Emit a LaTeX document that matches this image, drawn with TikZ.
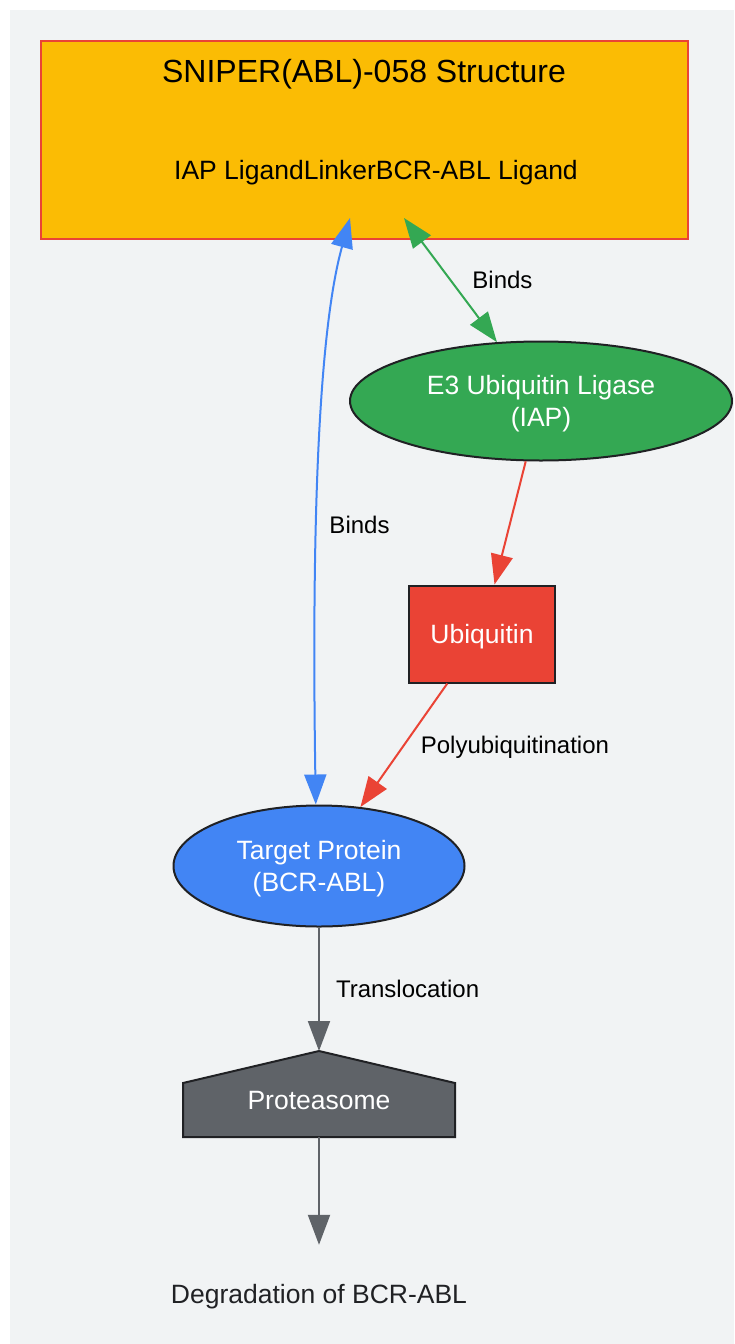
\documentclass[tikz,border=0pt]{standalone}
\usepackage{fontspec}
\setmainfont{Liberation Sans}
\usetikzlibrary{arrows.meta,positioning,shapes.geometric}

\definecolor{gyellow}{HTML}{FBBC04}
\definecolor{gred}{HTML}{EA4335}
\definecolor{ggreen}{HTML}{34A853}
\definecolor{gblue}{HTML}{4285F4}
\definecolor{ggrey}{HTML}{5F6368}
\definecolor{gdark}{HTML}{202124}
\definecolor{gback}{HTML}{F1F3F4}

\begin{document}
\begin{tikzpicture}[x=1pt, y=-1pt]
    \tikzstyle{every node}=[font=\fontsize{26.5}{32}\selectfont, text depth=0pt]
    \tikzstyle{mol}=[draw=gdark, line width=2pt, text=white, align=center, inner sep=0pt]
    \tikzstyle{lbl}=[font=\fontsize{24}{28}\selectfont, text=black, inner sep=0pt]
    \tikzstyle{onearrow}=[-{Triangle[length=30pt,width=22pt]}, line width=2pt]
    \tikzstyle{twoarrow}=[{Triangle[length=30pt,width=22pt]}-{Triangle[length=30pt,width=22pt]}, line width=2pt]

    \useasboundingbox (0,0) rectangle (734,1344);
    \fill[gback] (10,10) rectangle (734,1344);

    % compound box
    \draw[fill=gyellow, draw=gred, line width=2.5pt] (41,41) rectangle (688,239);
    \node[font=\fontsize{32}{38}\selectfont] (title) at (364,71) {SNIPER(ABL)-058 Structure};
    \node (parts) at (376,170) {IAP LigandLinkerBCR-ABL Ligand};
    \coordinate (ablEnd) at (350,218);
    \coordinate (iapEnd) at (404,218);

    \node[mol, ellipse, fill=ggreen, minimum width=382pt, minimum height=119pt] (e3) at (541,401) {E3 Ubiquitin Ligase\\(IAP)};
    \node[mol, rectangle, fill=gred, minimum width=146pt, minimum height=97pt] (ubi) at (482,634) {Ubiquitin};
    \node[mol, ellipse, fill=gblue, minimum width=291pt, minimum height=121pt] (target) at (319,866) {Target Protein\\(BCR-ABL)};

    % proteasome (house)
    \filldraw[fill=ggrey, draw=gdark, line width=2pt] (183,1137) -- (183,1083) -- (319,1051) -- (455,1083) -- (455,1137) -- cycle;
    \coordinate (protTop) at (319,1051);
    \coordinate (protBot) at (319,1137);
    \node[text=white] (prot) at (319,1100) {Proteasome};

    \node[text=gdark, minimum height=98pt] (degr) at (319,1294) {Degradation of BCR-ABL};

    \draw[twoarrow, gblue] (target.93) .. controls (312,560) and (316,340) .. node[lbl, pos=0.405, right=12pt] {Binds} (ablEnd);
    \path   (e3)        edge[twoarrow, ggreen]  node[lbl, midway, right=21pt] {Binds} (iapEnd);
    \path   (e3)        edge[onearrow, gred]    (ubi);
    \path   (ubi)       edge[onearrow, gred]    node[lbl, midway, right=16pt] {Polyubiquitination} (target);
    \path   (target)    edge[onearrow, ggrey]   node[lbl, midway, right=16pt] {Translocation} (protTop);
    \path   (protBot)   edge[onearrow, ggrey]   (degr);
\end{tikzpicture}
\end{document}
